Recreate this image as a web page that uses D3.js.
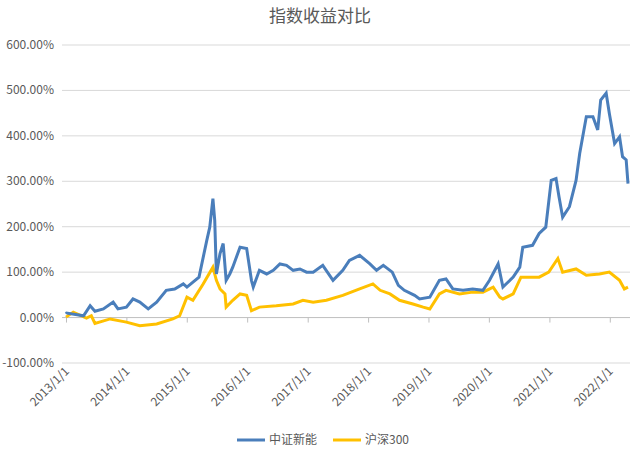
<!DOCTYPE html><html><head><meta charset="utf-8"><script src="https://cdn.jsdelivr.net/npm/d3@7"></script>
<style>body{margin:0;background:#fff}text{font-family:"Noto Sans CJK SC","DejaVu Sans",sans-serif;fill:#595959}</style></head><body><svg width="640" height="454"></svg>
<script>
const yTicks=[-100,0,100,200,300,400,500,600];
const xTickYears=[2013,2014,2015,2016,2017,2018,2019,2020,2021,2022];
const seriesNames=["中证新能","沪深300"];
// time in years since 2013/1/1, value in %
const tBlue=[0,0.01,0.29,0.4,0.48,0.62,0.78,0.86,1.0,1.11,1.22,1.36,1.5,1.66,1.8,1.94,2.0,2.2,2.33,2.38,2.43,2.46,2.49,2.55,2.6,2.65,2.71,2.76,2.88,2.99,3.07,3.1,3.2,3.32,3.43,3.54,3.65,3.76,3.87,3.98,4.09,4.25,4.42,4.58,4.69,4.86,5.03,5.14,5.25,5.4,5.5,5.6,5.77,5.85,6.02,6.18,6.29,6.4,6.57,6.73,6.9,7.01,7.15,7.23,7.4,7.51,7.56,7.72,7.83,7.94,8.03,8.11,8.16,8.22,8.33,8.44,8.5,8.61,8.72,8.8,8.85,8.94,8.99,9.08,9.16,9.21,9.27,9.3];
const vBlue=[8,10,4,26,14,19,34,19,23,41,34,19,34,60,63,74,67,89,170,199,262,214,96,141,163,82,96,111,155,152,82,67,104,96,104,118,115,104,107,100,100,115,82,104,126,137,118,104,115,100,71,60,49,41,45,82,85,63,60,63,60,82,118,67,89,111,155,159,185,199,302,306,266,221,244,302,361,442,442,413,479,494,450,383,398,354,347,295];
const tYellow=[0,0.12,0.34,0.42,0.48,0.73,1.0,1.22,1.5,1.77,1.88,2.0,2.1,2.27,2.43,2.49,2.55,2.63,2.65,2.76,2.88,2.99,3.07,3.2,3.48,3.76,3.92,4.09,4.31,4.58,4.86,5.08,5.2,5.36,5.52,5.74,5.91,6.02,6.18,6.29,6.51,6.73,6.9,7.07,7.18,7.23,7.4,7.53,7.83,7.99,8.14,8.22,8.44,8.61,8.83,8.99,9.16,9.24,9.3];
const vYellow=[1,12,-1,4,-13,-3,-10,-18,-14,-3,4,45,38,74,111,82,63,52,23,38,52,49,15,23,26,30,38,34,38,49,63,74,60,52,38,30,23,19,52,60,52,56,56,67,45,41,52,89,89,100,130,100,107,93,96,100,82,63,67];
const svg=d3.select("svg");
const toDate=t=>new Date(2013,0,1+Math.round(t*365.25));
const x=d3.scaleTime().domain([new Date(2013,0,1),toDate(9.3)]).range([66,628]);
const y=d3.scaleLinear().domain([-100,600]).range([363,45]);
svg.append("text").attr("x",320).attr("y",22).attr("text-anchor","middle").style("font-size","17px").text("指数收益对比");
svg.append("g").selectAll("line").data(yTicks.filter(d=>d!==0)).join("line").attr("x1",62).attr("x2",630).attr("y1",d=>y(d)).attr("y2",d=>y(d)).attr("stroke","#d9d9d9");
svg.append("g").selectAll("text").data(yTicks).join("text").attr("x",54).attr("y",d=>y(d)+4).attr("text-anchor","end").style("font-size","12px").text(d=>d.toFixed(2)+"%");
const xa=svg.append("g").attr("transform",`translate(0,${y(0)})`).call(d3.axisBottom(x).tickValues(xTickYears.map(yr=>new Date(yr,0,1))).tickSize(5).tickFormat(""));
xa.select(".domain").attr("stroke","#bfbfbf").attr("d","M62,0H630");xa.selectAll("line").attr("stroke","#bfbfbf");
svg.append("g").selectAll("text").data(xTickYears).join("text").attr("transform",d=>`translate(${x(new Date(d,0,1))+4},372) rotate(-45)`).attr("text-anchor","end").style("font-size","12px").text(d=>d+"/1/1");
const line=d3.line().x(d=>x(toDate(d[0]))).y(d=>y(d[1]));
svg.append("path").datum(d3.zip(tYellow,vYellow)).attr("d",line).attr("fill","none").attr("stroke","#FFC000").attr("stroke-width",3);
svg.append("path").datum(d3.zip(tBlue,vBlue)).attr("d",line).attr("fill","none").attr("stroke","#4A7EBB").attr("stroke-width",3);
const lg=[[237,"#4A7EBB"],[333,"#FFC000"]];
lg.forEach(([lx,c],i)=>{svg.append("line").attr("x1",lx).attr("x2",lx+28).attr("y1",440).attr("y2",440).attr("stroke",c).attr("stroke-width",3);
svg.append("text").attr("x",lx+32).attr("y",444).style("font-size","12px").text(seriesNames[i]);});
</script></body></html>
